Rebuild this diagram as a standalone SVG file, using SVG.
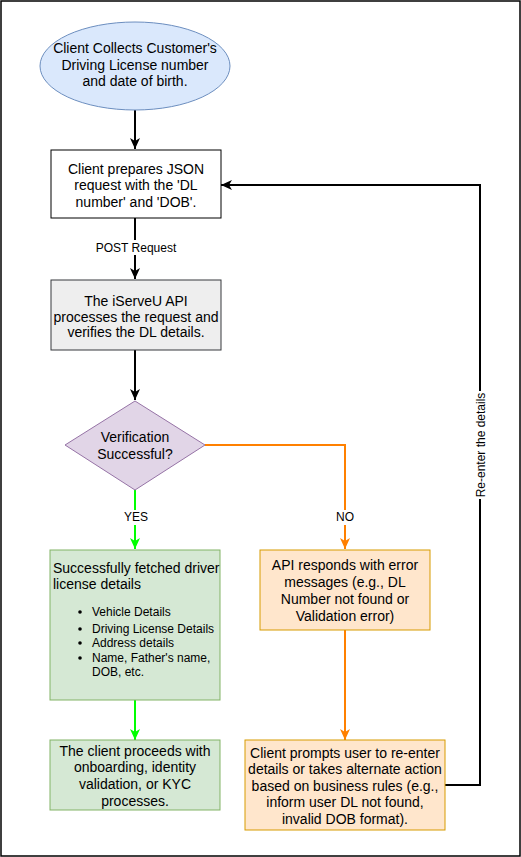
<svg xmlns="http://www.w3.org/2000/svg" width="521" height="857" viewBox="0 0 521 857">
<style>
text{font-family:"Liberation Sans",Arial,sans-serif;font-size:14px;fill:#000;}
.c{text-anchor:middle;}
.s{font-size:12px;}
.lbl{font-size:12px;text-anchor:middle;}
.e{fill:none;stroke-width:2;}
.k{stroke:#000;}
.g{stroke:#00ff00;}
.o{stroke:#ff8000;}
</style>
<defs>
<marker id="ak" markerUnits="userSpaceOnUse" markerWidth="12" markerHeight="12" refX="11" refY="6" orient="auto"><path d="M0,1 L11,6 L0,11 L3,6 Z" fill="#000"/></marker>
<marker id="ag" markerUnits="userSpaceOnUse" markerWidth="12" markerHeight="12" refX="11" refY="6" orient="auto"><path d="M0,1 L11,6 L0,11 L3,6 Z" fill="#00ff00"/></marker>
<marker id="ao" markerUnits="userSpaceOnUse" markerWidth="12" markerHeight="12" refX="11" refY="6" orient="auto"><path d="M0,1 L11,6 L0,11 L3,6 Z" fill="#ff8000"/></marker>
</defs>
<rect x="1" y="1" width="519" height="855" fill="#fff" stroke="#000" stroke-width="1.5"/>
<g id="connectors">
<path class="e k" d="M135,110 V149" marker-end="url(#ak)"/>
<path class="e k" d="M135,218 V279" marker-end="url(#ak)"/>
<rect x="96" y="240" width="80" height="15" fill="#fff"/>
<text class="lbl" x="136" y="252">POST Request</text>
<path class="e k" d="M135,350 V400" marker-end="url(#ak)"/>
<path class="e g" d="M135,490 V549" marker-end="url(#ag)"/>
<rect x="118" y="510" width="34" height="15" fill="#fff"/>
<text class="lbl" x="136" y="521">YES</text>
<path class="e o" d="M205,445 H345 V549" marker-end="url(#ao)"/>
<rect x="330" y="510" width="30" height="15" fill="#fff"/>
<text class="lbl" x="345" y="521">NO</text>
<path class="e g" d="M135,700 V740" marker-end="url(#ag)"/>
<path class="e o" d="M345,630 V740" marker-end="url(#ao)"/>
<path class="e k" d="M445,785 H480 V185 H221" marker-end="url(#ak)"/>
<rect x="472" y="391" width="16" height="108" fill="#fff"/>
<text class="lbl" transform="translate(485,445) rotate(-90)">Re-enter the details</text>
</g>
<g id="start">
<ellipse cx="135" cy="66" rx="95" ry="44" fill="#dae8fc" stroke="#6c8ebf"/>
<text class="c" x="135" y="53">Client Collects Customer's</text>
<text class="c" x="135" y="70">Driving License number</text>
<text class="c" x="135" y="86">and date of birth.</text>
</g>
<g id="prepare">
<rect x="51" y="150" width="170" height="68" fill="#fff" stroke="#000"/>
<text class="c" x="136" y="174">Client prepares JSON</text>
<text class="c" x="136" y="190">request with the 'DL</text>
<text class="c" x="136" y="207">number' and 'DOB'.</text>
</g>
<g id="api">
<rect x="51" y="280" width="170" height="70" fill="#eeeeee" stroke="#36393d"/>
<text class="c" x="136" y="306">The iServeU API</text>
<text class="c" x="136" y="321.5">processes the request and</text>
<text class="c" x="136" y="337">verifies the DL details.</text>
</g>
<g id="decision">
<path d="M135,401 L205,445 L135,490 L65,445 Z" fill="#e1d5e7" stroke="#9673a6"/>
<text class="c" x="135" y="442">Verification</text>
<text class="c" x="135" y="459">Successful?</text>
</g>
<g id="success">
<rect x="50" y="550" width="170" height="150" fill="#d5e8d4" stroke="#82b366"/>
<text x="53" y="573">Successfully fetched driver</text>
<text x="53" y="589">license details</text>
<circle cx="80" cy="612" r="1.8" fill="#000"/>
<text class="s" x="92" y="616">Vehicle Details</text>
<circle cx="80" cy="629" r="1.8" fill="#000"/>
<text class="s" x="92" y="633">Driving License Details</text>
<circle cx="80" cy="643" r="1.8" fill="#000"/>
<text class="s" x="92" y="647">Address details</text>
<circle cx="80" cy="658" r="1.8" fill="#000"/>
<text class="s" x="92" y="662">Name, Father's name,</text>
<text class="s" x="92" y="676">DOB, etc.</text>
</g>
<g id="proceed">
<rect x="50" y="740" width="170" height="70" fill="#d5e8d4" stroke="#82b366"/>
<text class="c" x="135" y="756">The client proceeds with</text>
<text class="c" x="135" y="772">onboarding, identity</text>
<text class="c" x="135" y="789">validation, or KYC</text>
<text class="c" x="135" y="806">processes.</text>
</g>
<g id="error">
<rect x="260" y="550" width="170" height="80" fill="#ffe6cc" stroke="#d79b00"/>
<text class="c" x="345" y="570">API responds with error</text>
<text class="c" x="345" y="587">messages (e.g., DL</text>
<text class="c" x="345" y="604">Number not found or</text>
<text class="c" x="345" y="621">Validation error)</text>
</g>
<g id="reprompt">
<rect x="245" y="740" width="200" height="90" fill="#ffe6cc" stroke="#d79b00"/>
<text class="c" x="345" y="758">Client prompts user to re-enter</text>
<text class="c" x="345" y="774">details or takes alternate action</text>
<text class="c" x="345" y="791">based on business rules (e.g.,</text>
<text class="c" x="345" y="807">inform user DL not found,</text>
<text class="c" x="345" y="824">invalid DOB format).</text>
</g>
</svg>
